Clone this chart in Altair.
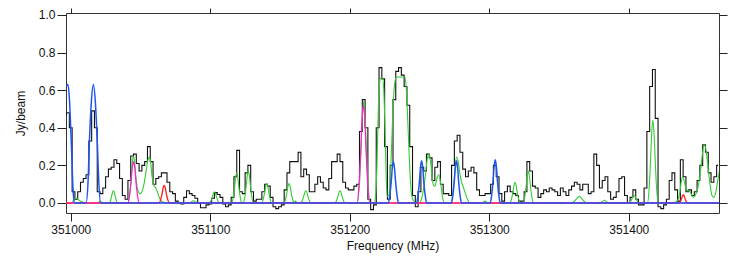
import altair as alt
import pandas as pd

# ---------------- data ----------------
# observed spectrum: channel centres start / spacing (MHz) and flux (Jy/beam)
spec_start = 350996.0
spec_step = 2.0
spec_flux = [
    0.47, 0.48, 0.40, 0.06, 0.02, 0.06, 0.11, 0.13, 0.15, 0.33,
    0.49, 0.40, 0.06, 0.05, 0.08, 0.14, 0.18, 0.19, 0.23, 0.21,
    0.13, 0.04, 0.02, 0.12, 0.25, 0.26, 0.21, 0.17, 0.20, 0.22,
    0.30, 0.22, 0.10, 0.13, 0.14, 0.16, 0.16, 0.11, 0.06, 0.05,
    0.01, 0.00, -0.005, 0.03, 0.065, 0.05, 0.04, 0.025, 0.00, -0.025,
    -0.025, -0.01, -0.005, 0.025, 0.055, 0.045, 0.03, -0.005, -0.02, -0.01,
    0.03, 0.14, 0.28, 0.06, 0.05, 0.16, 0.20, 0.06, 0.01, 0.02,
    0.02, 0.06, 0.10, 0.09, 0.03, -0.02, -0.03, -0.02, -0.01, 0.07,
    0.16, 0.22, 0.22, 0.22, 0.27, 0.14, 0.18, 0.15, 0.06, 0.06,
    0.10, 0.14, 0.11, 0.08, 0.07, 0.13, 0.22, 0.22, 0.26, 0.22,
    0.11, 0.08, 0.07, 0.07, 0.09, 0.10, 0.38, 0.55, 0.40, 0.02,
    -0.035, -0.01, 0.40, 0.72, 0.66, 0.30, 0.02, 0.20, 0.55, 0.70,
    0.72, 0.68, 0.62, 0.52, 0.30, 0.04, -0.02, 0.06, 0.19, 0.17,
    0.26, 0.24, 0.12, 0.19, 0.22, 0.10, 0.05, 0.05, 0.04, 0.20,
    0.33, 0.36, 0.27, 0.18, 0.14, 0.17, 0.19, 0.16, 0.07, 0.04,
    0.04, 0.05, 0.05, 0.10, 0.20, 0.14, 0.05, 0.01, 0.06, 0.09,
    0.06, 0.05, 0.04, 0.01, 0.01, 0.06, 0.22, 0.17, 0.09, 0.08,
    0.03, 0.05, 0.07, 0.06, 0.08, 0.07, 0.06, 0.04, 0.08, 0.06,
    0.04, 0.07, 0.09, 0.11, 0.10, 0.07, 0.10, 0.10, 0.05, 0.06,
    0.26, 0.20, 0.08, 0.12, 0.14, 0.06, 0.02, 0.03, 0.06, 0.13,
    0.14, 0.04, 0.00, 0.03, 0.07, 0.02, -0.01, -0.01, 0.08, 0.38,
    0.62, 0.71, 0.45, -0.02, -0.03, -0.01, 0.02, 0.12, 0.16, 0.07,
    0.01, 0.23, 0.14, 0.06, 0.07, 0.04, 0.06, 0.12, 0.20, 0.31,
    0.27, 0.16, 0.11, 0.14, 0.20,
]
spec_freq = [spec_start + spec_step * i for i in range(len(spec_flux))]

# model components, knots (MHz, Jy/beam)
blue_freq = [350996.6, 350998.0, 350999.0, 351000.4, 351001.6, 351002.6,
             351011.0, 351012.5, 351013.3, 351014.7, 351016.2, 351017.7, 351019.1, 351020.0, 351021.4,
             351227.7, 351228.7, 351229.7, 351230.5, 351231.3, 351232.1, 351232.9, 351233.9, 351234.9,
             351247.9, 351248.9, 351249.9, 351250.7, 351251.5, 351252.3, 351253.1, 351254.1, 351255.1,
             351272.9, 351273.9, 351274.9, 351275.7, 351276.5, 351277.3, 351278.1, 351279.1, 351280.1,
             351300.7, 351301.7, 351302.7, 351303.5, 351304.3, 351305.1, 351305.9, 351306.9, 351307.9,
             351465.0]
blue_flux = [0.62, 0.63, 0.56, 0.32, 0.08, 0.0,
             0.0, 0.13, 0.31, 0.53, 0.63, 0.53, 0.31, 0.13, 0.0,
             0.0, 0.04, 0.11, 0.185, 0.22, 0.185, 0.11, 0.04, 0.0,
             0.0, 0.04, 0.11, 0.19, 0.225, 0.19, 0.11, 0.04, 0.0,
             0.0, 0.04, 0.11, 0.19, 0.225, 0.19, 0.11, 0.04, 0.0,
             0.0, 0.04, 0.115, 0.195, 0.23, 0.195, 0.115, 0.04, 0.0,
             0.0]

magenta_freq = [350996.6,
                351041.0, 351042.1, 351043.2, 351044.1, 351045.0, 351045.9, 351046.8, 351047.9, 351049.0,
                351205.3, 351206.6, 351207.8, 351208.8, 351209.8, 351210.8, 351211.8, 351213.0, 351214.3,
                351465.0]
magenta_flux = [0.0,
                0.0, 0.037, 0.11, 0.185, 0.22, 0.185, 0.11, 0.037, 0.0,
                0.0, 0.09, 0.26, 0.44, 0.52, 0.44, 0.26, 0.09, 0.0,
                0.0]

red_freq = [350996.6,
            351063.4, 351064.4, 351065.4, 351066.2, 351067.0, 351067.8, 351068.6, 351069.6, 351070.6,
            351436.2, 351437.0, 351437.8, 351438.45, 351439.1, 351439.75, 351440.4, 351441.2, 351442.0,
            351465.0]
red_flux = [0.0,
            0.0, 0.016, 0.047, 0.079, 0.094, 0.079, 0.047, 0.016, 0.0,
            0.0, 0.0075, 0.022, 0.037, 0.044, 0.037, 0.022, 0.0075, 0.0,
            0.0]

green_freq = [350996.6, 351000.5, 351002.5, 351004.0, 351006.0, 351008.5, 351011.0,
              351019.5, 351021.0, 351023.0,
              351027.5, 351028.5, 351029.2, 351029.9, 351030.6, 351031.3, 351032.0, 351032.7, 351033.7,
              351041.0, 351042.1, 351043.2, 351044.1, 351045.0, 351045.9, 351046.8, 351048.0, 351049.7,
              351051.0, 351052.5, 351054.0, 351055.4, 351056.3, 351057.2, 351058.3, 351059.5, 351061.0,
              351062.5, 351064.0, 351066.0, 351069.0,
              351085.0, 351088.0, 351091.0,
              351099.4, 351100.4, 351101.4, 351102.2, 351103.0, 351103.8, 351104.6, 351105.6, 351106.6,
              351115.4, 351116.4, 351117.4, 351118.2, 351119.0, 351119.8, 351120.6, 351121.6, 351122.6,
              351123.7, 351124.7, 351125.7, 351126.5, 351127.3, 351128.1, 351128.9, 351129.9, 351130.9,
              351136.9, 351137.9, 351138.9, 351139.7, 351140.5, 351141.3, 351142.1, 351143.1, 351144.1,
              351152.9, 351153.9, 351154.9, 351155.7, 351156.5, 351157.3, 351158.1, 351159.1, 351160.1,
              351161.0, 351162.5,
              351164.9, 351165.9, 351166.9, 351167.7, 351168.5, 351169.3, 351170.1, 351171.1, 351172.1,
              351189.4, 351190.4, 351191.4, 351192.2, 351193.0, 351193.8, 351194.6, 351195.6, 351196.6,
              351205.5, 351206.8, 351208.0, 351209.0, 351210.0, 351211.0, 351212.0, 351213.2, 351214.5,
              351217.5, 351218.5, 351219.5, 351220.5, 351221.3, 351222.0, 351223.5, 351224.4, 351225.3,
              351226.2, 351227.0,
              351228.0, 351229.0, 351230.0, 351231.0, 351232.3, 351233.5, 351236.5, 351239.5, 351240.6,
              351241.8, 351243.0, 351244.2, 351245.5, 351248.0,
              351250.2, 351251.4, 351253.8, 351255.7, 351256.9, 351258.1, 351259.8, 351261.0, 351262.9,
              351263.8, 351265.3, 351266.5, 351268.1,
              351272.5, 351273.5, 351274.8, 351276.5, 351277.7, 351279.0, 351280.2, 351281.4, 351283.9,
              351286.0,
              351294.5, 351297.0, 351299.5,
              351314.9, 351315.9, 351316.9, 351317.7, 351318.5, 351319.3, 351320.1, 351321.1, 351322.1,
              351324.4, 351325.4, 351326.4, 351327.2, 351328.0, 351328.8, 351329.6, 351330.6, 351331.6,
              351359.0, 351360.5, 351362.0, 351363.3, 351364.5, 351365.7, 351367.0, 351368.5, 351370.0,
              351379.5, 351382.5, 351385.5,
              351400.2, 351401.2, 351402.2, 351403.0, 351403.8, 351404.6, 351405.4, 351406.4, 351407.4,
              351413.5, 351414.6, 351415.6, 351416.45, 351417.3, 351418.15, 351419.0, 351420.0, 351421.1,
              351431.0, 351434.5, 351436.5, 351437.6, 351438.7, 351439.8, 351441.0, 351442.5, 351444.0,
              351445.5, 351446.5, 351448.0, 351449.2, 351450.5, 351451.6, 351452.8, 351454.0, 351455.2,
              351456.4, 351457.6, 351458.8, 351460.0, 351461.2, 351462.5, 351463.6, 351465.0]
green_flux = [0.0, 0.0, 0.02, 0.025, 0.015, 0.005, 0.0,
              0.0, 0.01, 0.0,
              0.0, 0.012, 0.032, 0.055, 0.065, 0.055, 0.032, 0.012, 0.0,
              0.0, 0.04, 0.12, 0.21, 0.25, 0.21, 0.13, 0.07, 0.05,
              0.06, 0.10, 0.17, 0.23, 0.245, 0.22, 0.14, 0.095, 0.08,
              0.05, 0.02, 0.005, 0.0,
              0.0, 0.012, 0.0,
              0.0, 0.01, 0.03, 0.05, 0.06, 0.05, 0.03, 0.01, 0.0,
              0.0, 0.027, 0.08, 0.135, 0.16, 0.135, 0.08, 0.027, 0.0,
              0.0, 0.029, 0.085, 0.143, 0.17, 0.143, 0.085, 0.029, 0.0,
              0.0, 0.018, 0.053, 0.088, 0.105, 0.088, 0.053, 0.018, 0.0,
              0.0, 0.018, 0.053, 0.088, 0.105, 0.088, 0.053, 0.018, 0.005,
              0.01, 0.0,
              0.0, 0.011, 0.033, 0.055, 0.065, 0.055, 0.033, 0.011, 0.0,
              0.0, 0.011, 0.033, 0.055, 0.065, 0.055, 0.033, 0.011, 0.0,
              0.0, 0.09, 0.27, 0.455, 0.54, 0.455, 0.27, 0.09, 0.0,
              0.0, 0.04, 0.20, 0.50, 0.63, 0.665, 0.665, 0.60, 0.40,
              0.12, 0.035,
              0.04, 0.12, 0.30, 0.50, 0.64, 0.67, 0.67, 0.67, 0.60,
              0.40, 0.19, 0.05, 0.015, 0.0,
              0.0, 0.02, 0.12, 0.24, 0.26, 0.21, 0.10, 0.09, 0.14,
              0.15, 0.10, 0.03, 0.0,
              0.0, 0.03, 0.12, 0.245, 0.22, 0.155, 0.11, 0.085, 0.03,
              0.0,
              0.0, 0.01, 0.0,
              0.0, 0.019, 0.055, 0.092, 0.11, 0.092, 0.055, 0.019, 0.0,
              0.0, 0.029, 0.085, 0.143, 0.17, 0.143, 0.085, 0.029, 0.0,
              0.0, 0.006, 0.0175, 0.029, 0.035, 0.029, 0.0175, 0.006, 0.0,
              0.0, 0.015, 0.0,
              0.0, 0.007, 0.02, 0.034, 0.04, 0.034, 0.02, 0.007, 0.0,
              0.0, 0.075, 0.22, 0.37, 0.44, 0.37, 0.22, 0.075, 0.0,
              0.0, 0.01, 0.05, 0.11, 0.14, 0.115, 0.08, 0.065, 0.06,
              0.035, 0.03, 0.045, 0.07, 0.12, 0.18, 0.26, 0.31, 0.29,
              0.22, 0.14, 0.07, 0.035, 0.03, 0.06, 0.11, 0.17]

x_ticks = [351000, 351100, 351200, 351300, 351400]
y_ticks = [0.0, 0.2, 0.4, 0.6, 0.8, 1.0]

# ---------------- chart ----------------
FONT = "Liberation Sans"
x_scale = alt.Scale(domain=[350996.6, 351464.7], nice=False, zero=False)
y_scale = alt.Scale(domain=[-0.0532, 1.0106], nice=False, zero=False)

ax_bottom = alt.Axis(orient="bottom", values=x_ticks, format="d", title="Frequency (MHz)",
                     grid=False, domain=False, tickSize=8, tickColor="#222", labelPadding=3,
                     titlePadding=5, labelFont=FONT, titleFont=FONT, labelFontSize=12,
                     titleFontSize=12, titleFontWeight="normal", labelColor="#111", titleColor="#111")
ax_left = alt.Axis(orient="left", values=y_ticks, format=".1f", title="Jy/beam",
                   grid=False, domain=False, tickSize=9, tickColor="#222", labelPadding=2,
                   titlePadding=11, labelFont=FONT, titleFont=FONT, labelFontSize=12,
                   titleFontSize=12, titleFontWeight="normal", labelColor="#111", titleColor="#111")
ax_top = alt.Axis(orient="top", values=x_ticks, labels=False, title="", grid=False, domain=False,
                  tickSize=5, tickColor="#222")
ax_right = alt.Axis(orient="right", values=y_ticks, labels=False, title="", grid=False, domain=False,
                    tickSize=8, tickColor="#222")


def curve(freq, flux, color, interp, xa, ya, width=1.2):
    df = pd.DataFrame({"f": freq, "v": flux})
    return alt.Chart(df).mark_line(color=color, interpolate=interp, strokeWidth=width, clip=True).encode(
        x=alt.X("f:Q", scale=x_scale, axis=xa),
        y=alt.Y("v:Q", scale=y_scale, axis=ya),
    )


spec = curve(spec_freq, spec_flux, "#111111", "step", ax_bottom, ax_left, 1.1)
green = curve(green_freq, green_flux, "#33cc33", "monotone", ax_top, ax_right, 1.1)
red = curve(red_freq, red_flux, "#ff1a1a", "monotone", None, None, 1.3)
magenta = curve(magenta_freq, magenta_flux, "#ff22cc", "monotone", None, None, 1.2)
blue = curve(blue_freq, blue_flux, "#1f55ee", "monotone", None, None, 1.5)

chart = alt.layer(spec, green, red, magenta, blue).resolve_axis(
    x="independent", y="independent"
).properties(
    width=653, height=200,
    autosize=alt.AutoSizeParams(type="none"),
    padding={"left": 58, "top": 5, "right": 20, "bottom": 44},
).configure_view(stroke="#333333", strokeWidth=1)

chart.save("out.html", embed_options={"renderer": "svg", "actions": False})
